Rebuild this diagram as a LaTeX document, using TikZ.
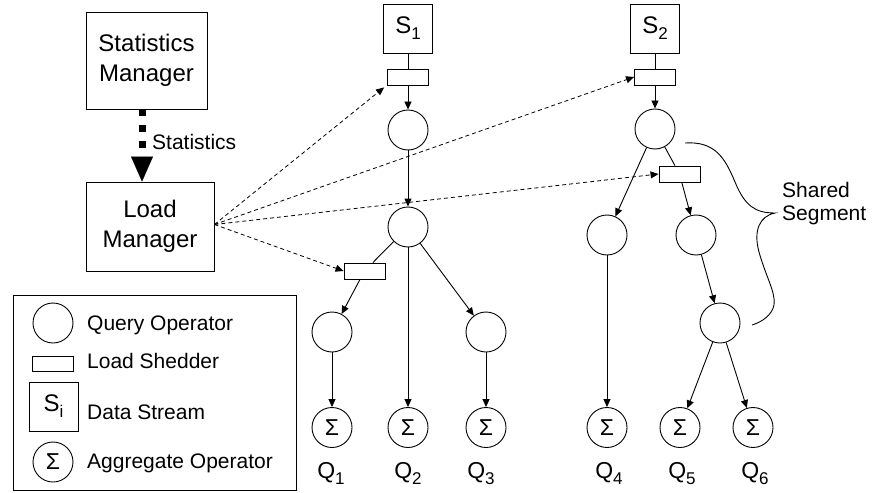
\documentclass[tikz,border=0pt]{standalone}
\usepackage{fontspec}
\setmainfont{Liberation Sans}
\usetikzlibrary{arrows.meta}

\newcommand{\idx}[1]{\raisebox{-6pt}{\fontsize{17}{17}\selectfont #1}}

\begin{document}
\begin{tikzpicture}[x=1pt,y=-1pt,
  op/.style={draw,circle,minimum size=40pt,inner sep=0pt,line width=0.9pt},
  agg/.style={op,font=\fontsize{23}{26}\selectfont},
  shed/.style={draw,rectangle,minimum width=41pt,minimum height=16pt,inner sep=0pt,line width=0.9pt},
  src/.style={draw,rectangle,minimum size=49pt,inner sep=0pt,line width=0.9pt,font=\fontsize{24}{28}\selectfont},
  mgr/.style={draw,rectangle,align=center,inner sep=0pt,line width=0.9pt,font=\fontsize{24}{30}\selectfont},
  flow/.style={-{Triangle[length=8pt,width=7pt]},line width=0.9pt},
  ctrl/.style={-{Triangle[length=8pt,width=7pt]},line width=0.8pt,dash pattern=on 4pt off 3pt},
  txt/.style={inner sep=0pt,font=\fontsize{21}{23}\selectfont},
  qlabel/.style={inner sep=0pt,anchor=base,font=\fontsize{23}{27}\selectfont}]
\useasboundingbox (0,0) rectangle (874,492);

% managers
\node[mgr,minimum width=121pt,minimum height=97pt] (statmgr) at (146.5,60.5) {Statistics\\Manager};
\node[mgr,minimum width=128pt,minimum height=89pt] (loadmgr) at (150,226.5) {Load\\Manager};
\draw[line width=7pt,dash pattern=on 7pt off 9pt,
  -{Triangle[length=25pt,width=22pt,line width=0.1pt]}]
  ([xshift=-4.5pt]statmgr.south) -- ([xshift=-8pt]loadmgr.north);
\node[txt,anchor=west] (statlbl) at (152,142) {Statistics};

% stream 1
\node[src] (s1) at (408,28.5) {S\idx{1}};
\node[shed] (sh1) at (408,77) {};
\node[op] (a1) at (408,130) {};
\node[op] (a2) at (408,227) {};
\node[shed] (sh3) at (364.5,271) {};
\node[op] (q1op) at (332,332) {};
\node[op] (q3op) at (486,332) {};
\node[agg] (g1) at (332,427.5) {Σ};
\node[agg] (g2) at (408,427.5) {Σ};
\node[agg] (g3) at (486,427.5) {Σ};

\draw[line width=0.9pt] (s1) -- (sh1);
\draw[flow] (sh1) -- (a1);
\draw[flow] (a1) -- (a2);
\draw[line width=0.9pt] (a2) -- (sh3);
\draw[flow] (sh3) -- (q1op);
\draw[flow] (a2) -- (q3op);
\draw[flow] (a2) -- (g2);
\draw[flow] (q1op) -- (g1);
\draw[flow] (q3op) -- (g3);

% stream 2
\node[src] (s2) at (655,28.5) {S\idx{2}};
\node[shed] (sh2) at (655,77) {};
\node[op] (b1) at (655,129) {};
\node[shed] (sh4) at (679.5,174) {};
\node[op] (b2) at (607,235) {};
\node[op] (b3) at (696,235) {};
\node[op] (b4) at (720,323) {};
\node[agg] (g4) at (607,427.5) {Σ};
\node[agg] (g5) at (680,427.5) {Σ};
\node[agg] (g6) at (753,427.5) {Σ};

\draw[line width=0.9pt] (s2) -- (sh2);
\draw[flow] (sh2) -- (b1);
\draw[flow] (b1) -- (b2);
\draw[line width=0.9pt] (b1) -- (sh4);
\draw[flow] (sh4) -- (b3);
\draw[flow] (b3) -- (b4);
\draw[flow] (b2) -- (g4);
\draw[flow] (b4) -- (g5);
\draw[flow] (b4) -- (g6);

% query labels
\node[qlabel] (q1) at (331,478) {Q\idx{1}};
\node[qlabel] (q2) at (408,478) {Q\idx{2}};
\node[qlabel] (q3) at (481,478) {Q\idx{3}};
\node[qlabel] (q4) at (609,478) {Q\idx{4}};
\node[qlabel] (q5) at (682,478) {Q\idx{5}};
\node[qlabel] (q6) at (755,478) {Q\idx{6}};

% load shedding control
\coordinate (lm) at ([yshift=2pt]loadmgr.east);
\draw[ctrl] (lm) -- ([xshift=-3pt,yshift=-2pt]sh1.south west);
\draw[ctrl] (lm) -- (sh2.west);
\draw[ctrl] (lm) -- (sh4.west);
\draw[ctrl] (lm) -- (sh3.west);

% shared segment brace
\draw[line width=0.9pt] (685,143) .. controls (715,141) and (725,158) .. (735,182)
  .. controls (745,206) and (755,213) .. (775,213)
  .. controls (760,216) and (753,230) .. (759,252)
  .. controls (766,277) and (776,293) .. (774,305)
  .. controls (772,315) and (762,322) .. (752,325);
\node[txt,align=left,anchor=west] (shared) at (782,204) {Shared\\Segment};

% legend
\node[draw,line width=0.9pt,minimum width=283pt,minimum height=195pt,inner sep=0pt] (legend) at (154.5,392.5) {};
\node[op] (lgop) at (53,323) {};
\node[shed,minimum height=15pt] (lgshed) at (52.5,363.5) {};
\node[src] (lgsrc) at (53.5,406.5) {S\idx{i}};
\node[agg] (lgagg) at (53,462) {Σ};
\node[txt,anchor=base west] (lgoptxt) at (87,330) {Query Operator};
\node[txt,anchor=base west] (lgshedtxt) at (87,368) {Load Shedder};
\node[txt,anchor=base west] (lgsrctxt) at (87,419) {Data Stream};
\node[txt,anchor=base west] (lgaggtxt) at (87,468) {Aggregate Operator};
\end{tikzpicture}
\end{document}
